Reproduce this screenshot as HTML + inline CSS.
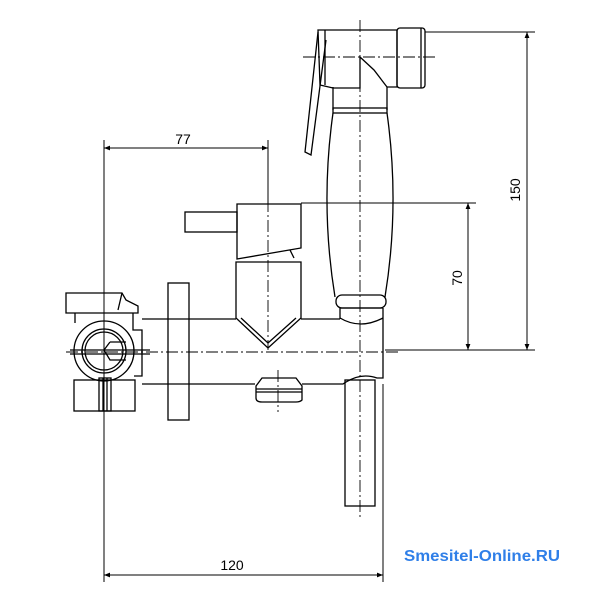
<!DOCTYPE html>
<html><head><meta charset="utf-8"><style>
html,body{margin:0;padding:0;background:#fff;}
svg{display:block;}
</style></head><body>
<svg width="600" height="600" viewBox="0 0 600 600" xmlns="http://www.w3.org/2000/svg">
<defs>
<marker id="a" viewBox="0 0 10 10" refX="10" refY="5" markerWidth="9" markerHeight="6" orient="auto-start-reverse"><path d="M0,1 L10,5 L0,9 z" fill="#000"/></marker>
</defs>
<g fill="none" stroke="#000" stroke-width="1.3">
<!-- extension lines -->
<g stroke-width="1">
<line x1="104" y1="140" x2="104" y2="582"/>
<line x1="268" y1="140" x2="268" y2="204"/>
<line x1="383" y1="384" x2="383" y2="582"/>
<line x1="425" y1="32" x2="535" y2="32"/>
<line x1="301" y1="203" x2="476" y2="203"/>
<line x1="385" y1="350" x2="535" y2="350"/>
<!-- dimension lines -->
<line x1="104" y1="148" x2="268" y2="148" marker-start="url(#a)" marker-end="url(#a)"/>
<line x1="104" y1="575" x2="383" y2="575" marker-start="url(#a)" marker-end="url(#a)"/>
<line x1="527" y1="32" x2="527" y2="350" marker-start="url(#a)" marker-end="url(#a)"/>
<line x1="468" y1="203" x2="468" y2="350" marker-start="url(#a)" marker-end="url(#a)"/>
</g>
<!-- centerlines -->
<g stroke-width="0.9" stroke-dasharray="12,3,2,3">
<line x1="66" y1="352" x2="400" y2="352"/>
<line x1="268" y1="180" x2="268" y2="350"/>
<line x1="278" y1="370" x2="278" y2="412"/>
<line x1="360" y1="20" x2="360" y2="520"/>
<line x1="303" y1="57" x2="435" y2="57"/>
</g>
<!-- lever -->
<rect x="185" y="212" width="52" height="20"/>
<!-- cap -->
<path d="M237,204 H301 V248 L237,259 Z"/>
<path d="M290,250 L294,258"/>
<!-- lower body -->
<path d="M236,262 H301 V318 L268,348 L236,318 Z"/>
<path d="M241,318 L268,343 L296,318"/>
<!-- pipe -->
<path d="M142,319 H236 M301,319 H340"/>
<path d="M142,384 H255 M302,384 H343 Q360,372 377,378 H383 V308"/>
<path d="M340,308 V319"/>
<path d="M340,308 H383"/>
<path d="M340,318 Q360,330 383,318"/>
<!-- flange -->
<rect x="168" y="283" width="21" height="137"/>
<!-- nut -->
<path d="M256,386 L262,378 H296 L302,386 V400 Q300,402 296,402 H262 Q256,402 256,398 Z"/>
<line x1="256" y1="389" x2="302" y2="389"/>
<line x1="256" y1="392" x2="302" y2="392"/>
<!-- hose -->
<rect x="345" y="380" width="30" height="126"/>
<!-- left fitting -->
<path d="M66,293 H122 L126,300 L138,306 V313 H66 Z"/>
<path d="M122,293 L118,310"/>
<path d="M75,313 V323 M133,313 V330 L142,330 V376 L134,376"/>
<circle cx="104" cy="351" r="30"/>
<circle cx="104" cy="351" r="22"/>
<circle cx="104" cy="351" r="19"/>
<path d="M110,342 H126 M110,342 L104,350 L110,360 H126"/>
<rect x="74" y="380" width="61" height="31"/>
<rect x="99" y="378" width="12" height="33"/>
<line x1="103" y1="378" x2="103" y2="411"/>
<line x1="107" y1="378" x2="107" y2="411"/>
<line x1="70" y1="350" x2="150" y2="350"/>
<line x1="70" y1="354" x2="150" y2="354"/>
<!-- hand shower head -->
<path d="M318,30 H397 V87 H387 L374,70 L360,57 V88 H333 L320,85 Z"/>
<line x1="325" y1="30" x2="325" y2="85"/>
<rect x="397" y="28" width="28" height="60" rx="3"/>
<line x1="421" y1="28" x2="421" y2="88"/>
<path d="M333,87 V110 M387,87 V110"/>
<rect x="333" y="108" width="54" height="5"/>
<!-- trigger -->
<path d="M318,32 L305,152 L311,155 L326,40"/>
<!-- grip -->
<path d="M333,113 Q320,205 335,297 M387,113 Q400,205 385,297"/>
<rect x="336" y="295" width="50" height="13" rx="6"/>
</g>
<g font-family="Liberation Sans, sans-serif" font-size="14" fill="#000">
<text x="183" y="144" text-anchor="middle">77</text>
<text x="232" y="570" text-anchor="middle">120</text>
<text transform="translate(520,190) rotate(-90)" text-anchor="middle">150</text>
<text transform="translate(462,278) rotate(-90)" text-anchor="middle">70</text>
</g>
<text x="404" y="561" font-family="Liberation Sans, sans-serif" font-weight="bold" font-size="15.5" fill="#2f7fe8" textLength="156" lengthAdjust="spacingAndGlyphs">Smesitel-Online.RU</text>
</svg>
</body></html>
